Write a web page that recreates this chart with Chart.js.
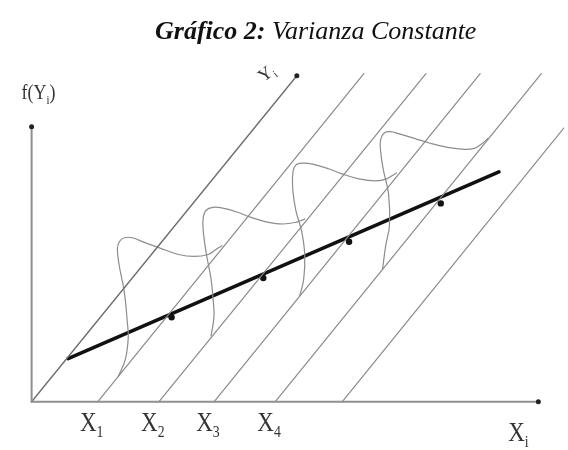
<!DOCTYPE html>
<html>
<head>
<meta charset="utf-8">
<script src="https://cdn.jsdelivr.net/npm/chart.js@4/dist/chart.umd.min.js"></script>
<style>
  body { margin: 0; background: #fff; }
  #wrap { position: relative; width: 568px; height: 450px; overflow: hidden; }
  #title {
    position: absolute; top: 16px; left: 155px; white-space: nowrap;
    font-family: 'Liberation Serif', 'Times New Roman', serif;
    font-size: 26px; font-style: italic; color: #111;
  }
</style>
</head>
<body>
<div id="wrap">
  <canvas id="diagram" width="568" height="450"></canvas>
  <div id="title"><b>Gráfico 2:</b> Varianza Constante</div>
</div>
<script>
// axes of the sketch (origin = 0,0)
const xAxis = [[0, 0], [514, 0]];
const fAxis = [[0, 0], [0, 280]];
const yAxis = [[0, 0], [269, 332]];

// lines parallel to the Y axis, from their foot on the X axis
const line1 = [[67, 0], [337, 334]];
const line2 = [[129, 0], [400, 334]];
const line3 = [[185, 0], [455, 334]];
const line4 = [[247, 0], [517, 334]];
const line5 = [[315, 0], [540, 279]];

// regression line and the conditional means on it
const regLine = [[37, 44], [474, 234]];
const means = [[142, 86], [235, 126], [322, 163], [415, 202]];

// density curves, one per X value
const curve1 = [[88, 26], [95, 43], [98, 65], [97, 82], [94, 112], [89, 138], [87, 155], [89, 163],
  [94, 167], [102, 167], [115, 162], [129, 157], [149, 150], [165, 148], [179, 150], [187, 155], [193, 159]];
const curve2 = [[182, 67], [185, 87], [184, 105], [182, 125], [177, 152], [174, 175], [174, 187], [177, 195],
  [184, 198], [195, 197], [209, 193], [222, 188], [239, 183], [255, 181], [269, 183], [277, 186]];
const curve3 = [[272, 108], [276, 125], [277, 150], [274, 173], [268, 195], [265, 215], [265, 233], [268, 241],
  [275, 243], [285, 242], [302, 237], [315, 232], [332, 227], [349, 225], [360, 227], [370, 233]];
const curve4 = [[356, 135], [359, 158], [363, 180], [362, 212], [357, 235], [354, 255], [354, 267], [358, 274],
  [364, 275], [372, 273], [389, 268], [405, 263], [422, 259], [439, 257], [449, 258], [457, 263], [463, 268]];

const xLabels = ['1', '2', '3', '4'];

const pts = arr => arr.map(p => ({x: p[0], y: p[1]}));

function seg(data, color, width, endDot) {
  return {
    data: pts(data),
    showLine: true,
    borderColor: color,
    borderWidth: width,
    pointRadius: endDot ? [0, 2.5] : 0,
    pointBackgroundColor: '#222',
    pointBorderWidth: 0,
    tension: 0,
  };
}

function curve(data) {
  return {
    data: pts(data),
    showLine: true,
    borderColor: '#8c8c8c',
    borderWidth: 1.2,
    pointRadius: 0,
    tension: 0.4,
  };
}

const serif = "'Liberation Serif', 'Times New Roman', serif";

// text with a subscript, centred on px, stretched a little in height like the scan
function subText(ctx, main, sub, after, px, py, size, stretch) {
  ctx.save();
  ctx.translate(px, py);
  ctx.scale(1, stretch || 1);
  ctx.font = size + 'px ' + serif;
  const w1 = ctx.measureText(main).width;
  ctx.font = (size * 0.6) + 'px ' + serif;
  const w2 = ctx.measureText(sub).width;
  ctx.font = size + 'px ' + serif;
  const w3 = after ? ctx.measureText(after).width : 0;
  const x0 = -(w1 + w2 + w3) / 2;
  ctx.textBaseline = 'alphabetic';
  ctx.textAlign = 'left';
  ctx.fillText(main, x0, 0);
  ctx.font = (size * 0.6) + 'px ' + serif;
  ctx.fillText(sub, x0 + w1, size * 0.22);
  if (after) {
    ctx.font = size + 'px ' + serif;
    ctx.fillText(after, x0 + w1 + w2, 0);
  }
  ctx.restore();
}

const labelPlugin = {
  id: 'sketchLabels',
  afterDatasetsDraw(chart) {
    const {ctx, scales: {x, y}} = chart;
    ctx.save();
    ctx.fillStyle = '#333';
    const base = y.getPixelForValue(0);
    [line1, line2, line3, line4].forEach((ln, i) => {
      subText(ctx, 'X', xLabels[i], '', x.getPixelForValue(ln[0][0]) - 6, base + 29, 23, 1.2);
    });
    subText(ctx, 'X', 'i', '', x.getPixelForValue(xAxis[1][0]) - 20, base + 39, 23, 1.2);
    subText(ctx, 'f(Y', 'i', ')', x.getPixelForValue(0) + 7, y.getPixelForValue(fAxis[1][1]) - 28, 18, 1.2);
    // label of the Y axis, written along its direction
    ctx.translate(x.getPixelForValue(yAxis[1][0]) - 27, y.getPixelForValue(yAxis[1][1]) + 2);
    ctx.rotate(-0.65);
    subText(ctx, 'Y', 'i', '', 0, 0, 18, 1);
    ctx.restore();
  }
};

new Chart(document.getElementById('diagram'), {
  type: 'scatter',
  data: {
    datasets: [
      seg(xAxis, '#8f8f8f', 2, true),
      seg(fAxis, '#8f8f8f', 2, true),
      seg(yAxis, '#6f6f6f', 1.4, true),
      seg(line1, '#8a8a8a', 1.2),
      seg(line2, '#8a8a8a', 1.2),
      seg(line3, '#8a8a8a', 1.2),
      seg(line4, '#8a8a8a', 1.2),
      seg(line5, '#8a8a8a', 1.2),
      curve(curve1),
      curve(curve2),
      curve(curve3),
      curve(curve4),
      seg(regLine, '#111', 3.6),
      {
        data: pts(means),
        pointRadius: 3.2,
        pointBackgroundColor: '#111',
        pointBorderWidth: 0,
        showLine: false,
      },
    ]
  },
  options: {
    responsive: false,
    animation: false,
    devicePixelRatio: 1,
    layout: {padding: 0},
    scales: {
      x: {type: 'linear', min: -28, max: 540, display: false},
      y: {type: 'linear', min: -45, max: 405, display: false},
    },
    plugins: {
      legend: {display: false},
      tooltip: {enabled: false},
    },
    elements: {line: {borderCapStyle: 'round'}},
  },
  plugins: [labelPlugin],
});
</script>
</body>
</html>
